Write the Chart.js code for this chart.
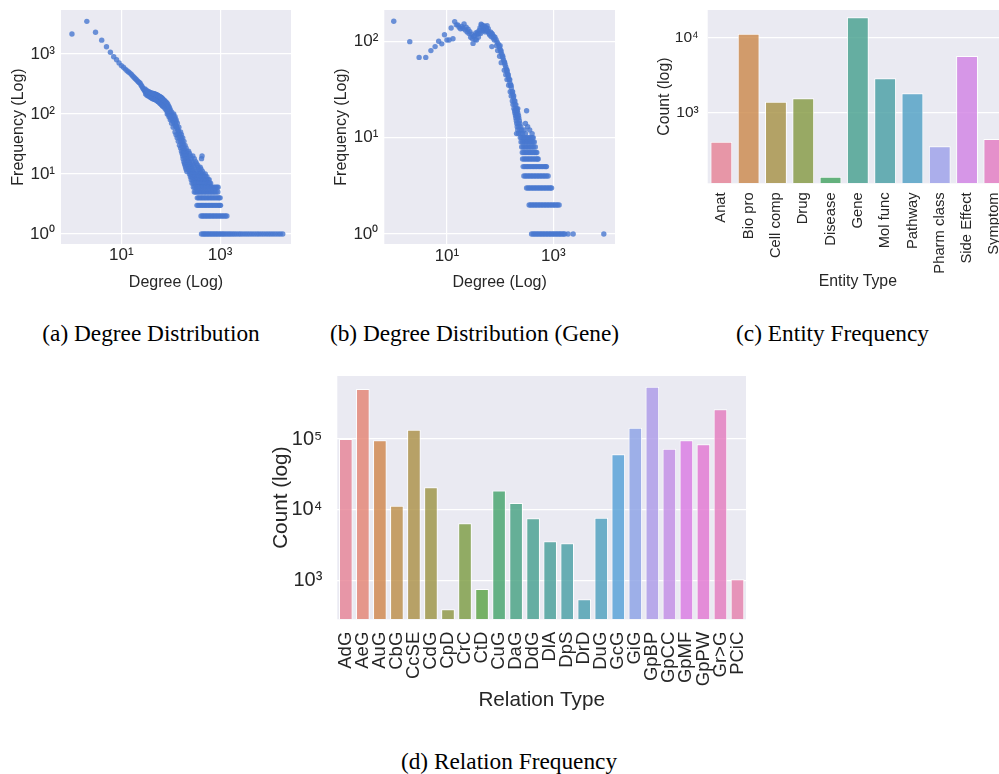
<!DOCTYPE html>
<html>
<head>
<meta charset="utf-8">
<title>Degree and frequency distributions</title>
<script src="https://cdn.jsdelivr.net/npm/chart.js@4.4.1/dist/chart.umd.min.js"></script>
<style>
  html, body { margin:0; padding:0; background:#ffffff; }
  #wrap { position:relative; width:999px; height:774px; overflow:hidden; background:#ffffff; }
  canvas { position:absolute; }
  .cap { position:absolute; width:400px; text-align:center; font-family:'Liberation Serif','Times New Roman',serif; font-size:23.3px; line-height:26px; color:#000; white-space:nowrap; }
</style>
</head>
<body>
<div id="wrap">
  <canvas id="chartA" width="300" height="300" style="left:0px;top:0px"></canvas>
  <canvas id="chartB" width="300" height="300" style="left:330px;top:0px"></canvas>
  <canvas id="chartC" width="380" height="300" style="left:640px;top:0px"></canvas>
  <canvas id="chartD" width="501" height="350" style="left:255px;top:366px"></canvas>
  <div class="cap" style="left:-49px;top:320px">(a) Degree Distribution</div>
  <div class="cap" style="left:274.5px;top:320px">(b) Degree Distribution (Gene)</div>
  <div class="cap" style="left:632.5px;top:320px">(c) Entity Frequency</div>
  <div class="cap" style="left:309px;top:748px">(d) Relation Frequency</div>
</div>
<script>
// ---------------- DATA ----------------
// (a) Degree distribution, all nodes: [degree, frequency] along the main curve
const ridgeA = [[1,2150],[2,3500],[3,2300],[4,1700],[5,1320],[6,1070],[7,900],[8,800],[9,710],[10,640],
 [11,600],[12,560],[13,525],[14,500],[15,480],[16,455],[17,430],[18,410],[19,390],[20,375],[21,360],[22,345],
 [23,335],[24,325],[25,305],[26,290],[27,275],[28,260],[29,250],[30,240],[31,235],[32,228],[33,222],[34,215],
 [35,225],[36,210],[37,218],[38,205],[39,212],[40,200],[41,208],[42,203],[43,198],[44,210],[45,196],[46,202],
 [47,193],[48,200],[49,190],[50,197],[51,188],[52,194],[54,185],[56,190],[58,178],[60,182],[62,172],[64,176],
 [66,166],[68,170],[70,160],[72,163],[74,152],[76,156],[78,145],[80,148],[82,138],[84,140],[86,130],[88,126],
 [90,120],[92,116],[94,112],[96,108],[98,103],[100,100],[103,95],[106,90],[109,86],[112,82],[115,78],[118,74],
 [121,71],[124,68],[127,65],[130,62],[133,60],[137,56],[141,53],[145,50],[149,47],[153,44],[157,42],[161,40],
 [165,38],[170,35],[175,32],[180,30],[185,27],[190,25],[195,23],[200,21],[210,19],[220,17],[230,15],[240,14],
 [250,13],[265,12],[280,11]];
// (a) further points that widen the curve between degree 30 and 130
const spreadA = [[30,262],[31,215],[32,250],[33,205],[34,240],[35,200],[36,235],[37,195],[38,228],[39,188],
 [40,225],[41,185],[42,222],[43,180],[44,220],[45,178],[46,218],[47,175],[48,215],[49,172],[50,212],[51,170],
 [52,210],[53,166],[54,205],[55,162],[56,202],[57,158],[58,198],[59,155],[60,195],[61,150],[62,192],[63,148],
 [64,188],[65,142],[66,185],[67,140],[68,180],[69,135],[70,175],[72,132],[74,170],[76,125],[78,162],[80,118],
 [82,155],[84,112],[86,148],[88,105],[90,138],[92,98],[94,128],[96,92],[98,118],[100,86],[104,108],[108,78],
 [112,96],[116,70],[120,86],[124,62],[128,76]];
// (a) scattered points around the curve: [frequency, [degrees]]
const cloudA = [[100,[85,115]],[90,[92,122]],[80,[98,128]],[70,[104,136]],[60,[112,146]],[50,[122,158]],
 [45,[128,140,165]],[40,[135,148,175]],[35,[142,158,185]],[30,[150,166,195]],[27,[158,172,205]],
 [24,[165,180,212,230]],[22,[170,185,210,240]],[20,[175,190,215,250,280,430]],[18,[178,198,225,260,300,420]],
 [16,[185,205,235,270,320]],[15,[190,212,240,280,330]],[14,[195,218,250,290,350]],[13,[200,225,260,300,360,395]],
 [12,[205,232,270,310,370,410]],[11,[212,240,280,330,390,440]]];
// (a) low-frequency bands: [frequency, [degrees]]
const bandsA = [
 [10,[240,256,274,293,314,337,362,390,420,455,500]],
 [9,[250,267,285,305,327,351,377,405,436,470,505,540]],
 [8,[260,280,299,320,343,368,395,424,456,491,530,570,600]],
 [7,[270,290,310,331,354,379,406,435,466,500,537,577,610,640]],
 [6,[288,307,328,350,374,400,428,458,490,525,562,602,645,692,742,800,860,910]],
 [5,[300,320,342,365,390,417,446,477,510,546,585,627,672,720,772,828,900]],
 [4,[345,368,393,420,449,480,513,549,587,628,672,720,772,828,888,950,1000]],
 [3,[340,362,386,412,440,470,502,536,573,612,655,700,750,805,862,925,990,1020]],
 [2,[410,438,466,497,530,566,604,645,690,738,790,845,905,970,1040,1115,1195,1280,1370]],
 [1,[420,452,480,515,548,590,628,676,720,775,830,890,960,1030,1110,1190,1290,1400,1520,1650,1800,1960,
     2150,2380,2600,2880,3200,3550,3950,4400,4900,5500,6100,6800,7600,8500,9500,10600,11800,13200,14800,16500,18500]]];

// (b) Degree distribution, gene nodes
const ridgeB = [[1,161],[2,99],[3,68],[4,68],[5,80],[6,88],[7,100],[8,94],[9,117],[10,103],[11,103],[12,137],
 [13,106],[14,160],[15,148],[16,148],[17,140],[18,135],[19,142],[20,136],[21,151],[22,131],[23,140],[24,125],
 [25,133],[26,120],[27,126],[28,110],[29,118],[30,107],[31,95],[32,112],[33,115],[34,104],[35,122],[36,103],
 [37,118],[38,125],[39,110],[40,121],[41,130],[42,138],[43,120],[44,150],[45,148],[46,140],[47,128],[48,136],
 [49,145],[50,132],[51,131],[52,142],[53,125],[54,138],[55,136],[56,130],[57,145],[58,128],[59,126],[60,135],
 [62,120],[64,116],[66,125],[68,112],[69,121],[70,88],[72,118],[74,108],[76,112],[78,103],[80,110],[84,104],
 [88,98],[92,94],[96,88],[100,82],[104,77],[108,73],[112,68],[116,64],[120,61],[124,57],[128,54],[132,51],
 [136,48],[140,45],[144,42],[148,40],[153,37],[158,35],[163,33],[168,30],[173,28],[178,26],[184,24],[190,22],
 [196,20],[202,18],[208,17],[214,16],[220,14],[227,13],[235,12],[243,11]];
const cloudB = [[90,[86,100]],[80,[90,104]],[70,[98,112]],[60,[105,122]],[50,[120,135]],[45,[128,142]],
 [40,[135,152]],[35,[145,160]],[30,[155,172]],[27,[162,180]],[24,[170,190]],[22,[175,198]],[20,[182,205,215]],
 [19,[188,210,315]],[18,[190,215]],[17,[195,222]],[16,[198,225]],[15,[202,230]],[14,[206,236,300]],
 [13,[210,245,330]],[12,[215,255,285,360]],[11,[204,222,265,300,400]]];
const bandsB = [
 [10,[240,256,273,292,311,332,355,380,405,420]],
 [9,[248,265,283,302,322,344,367,392,418,440]],
 [8,[255,272,290,310,330,352,376,401,428,460]],
 [7,[262,280,298,318,340,362,386,412,440,470,490]],
 [6,[265,283,302,322,343,366,390,416,444,474,505,520]],
 [5,[272,290,310,330,352,376,401,428,456,487,520,555,592,632,676,720,745]],
 [4,[280,299,319,340,363,387,413,440,470,501,535,570,608,650,695,745,800]],
 [3,[315,336,358,382,408,435,464,495,528,563,600,640,683,728,777,830,885,929]],
 [2,[352,376,400,428,456,487,520,555,592,632,675,720,768,820,875,935,1000,1065,1135,1210,1290]],
 [1,[391,418,445,475,505,540,575,612,650,695,740,790,840,895,955,1015,1080,1150,1225,1300,1380,1470,1560,1650,1900,2370,8930]]];

// (c) Entity frequency
const entityTypes = ['Anat','Bio pro','Cell comp','Drug','Disease','Gene','Mol func','Pathway','Pharm class','Side Effect','Symptom'];
const entityCounts = [410,11300,1400,1556,140,18800,2880,1820,356,5700,446];

// (d) Relation frequency
const relationTypes = ['AdG','AeG','AuG','CbG','CcSE','CdG','CpD','CrC','CtD','CuG','DaG','DdG','DlA','DpS','DrD','DuG','GcG','GiG','GpBP','GpCC','GpMF','GpPW','Gr>G','PCiC'];
const relationCounts = [100000,509000,96000,11400,135000,20700,390,6430,755,18600,12400,7550,3570,3350,541,7700,60800,144000,549000,73000,96000,84000,263000,1038];

// tick values (powers of ten shown on each axis)
const ticksAx = [10,1000], ticksAy = [1,10,100,1000];
const ticksBx = [10,1000], ticksBy = [1,10,100];
const ticksCy = [1000,10000];
const ticksDy = [1000,10000,100000];

// ---------------- HELPERS ----------------
Chart.defaults.font.family = "'Liberation Sans', Arial, Helvetica, sans-serif";
Chart.defaults.color = '#262626';
const TXT = '#262626';
const SUP = {'0':'\u2070','1':'\u00B9','2':'\u00B2','3':'\u00B3','4':'\u2074','5':'\u2075','6':'\u2076'};
const powLabel = v => '10' + String(Math.round(Math.log10(v))).split('').map(c => SUP[c]).join('');

function buildPoints(pairs, levelLists){
  const pts = pairs.map(([x,y]) => ({x, y}));
  levelLists.forEach(([f, degs]) => degs.forEach(d => pts.push({x:d, y:f})));
  return pts;
}

// seaborn-style husl palette, desaturated like barplot
const HM = [[3.2406,-1.5372,-0.4986],[-0.9689,1.8758,0.0415],[0.0557,-0.2040,1.0570]];
function maxChroma(L,H){
  const hr = H/360*2*Math.PI, sinH = Math.sin(hr), cosH = Math.cos(hr);
  const sub1 = Math.pow(L+16,3)/1560896, sub2 = sub1 > 0.008856 ? sub1 : L/903.3;
  let res = Infinity;
  for (const [m1,m2,m3] of HM){
    const top = (0.99915*m1 + 1.05122*m2 + 1.14460*m3)*sub2;
    const rb = 0.86330*m3 - 0.17266*m2, lb = 0.12949*m3 - 0.38848*m1;
    const bottom = (rb*sinH + lb*cosH)*sub2;
    for (const t of [0,1]){
      const C = L*(top - 1.05122*t)/(bottom + 0.17266*sinH*t);
      if (C > 0 && C < res) res = C;
    }
  }
  return res;
}
function huslToRgb(H,S,L){
  const C = maxChroma(L,H)/100*S, hr = H/360*2*Math.PI;
  const U = Math.cos(hr)*C, V = Math.sin(hr)*C;
  const t = (L+16)/116, Y = t*t*t > 0.008856 ? t*t*t : (116*t-16)/903.3;
  const vu = U/(13*L) + 0.19784, vv = V/(13*L) + 0.46834;
  const X = -(9*Y*vu)/((vu-4)*vv - vu*vv);
  const Z = (9*Y - 15*vv*Y - vv*X)/(3*vv);
  return HM.map(r => { const c = r[0]*X + r[1]*Y + r[2]*Z; const v = c <= 0.0031308 ? 12.92*c : 1.055*Math.pow(c,1/2.4) - 0.055; return Math.min(1, Math.max(0, v)); });
}
function desaturate([r,g,b], p){
  const mx = Math.max(r,g,b), mn = Math.min(r,g,b), l = (mx+mn)/2;
  if (mx === mn) return [r,g,b];
  const d = mx - mn; let s = l <= 0.5 ? d/(mx+mn) : d/(2-mx-mn);
  const rc = (mx-r)/d, gc = (mx-g)/d, bc = (mx-b)/d;
  let h = r === mx ? bc-gc : (g === mx ? 2+rc-bc : 4+gc-rc);
  h = ((h/6)%1 + 1)%1; s *= p;
  const m2 = l <= 0.5 ? l*(1+s) : l+s-l*s, m1 = 2*l - m2;
  const v = hh => { hh = ((hh%1)+1)%1; if (hh < 1/6) return m1+(m2-m1)*hh*6; if (hh < 0.5) return m2; if (hh < 2/3) return m1+(m2-m1)*(2/3-hh)*6; return m1; };
  return [v(h+1/3), v(h), v(h-1/3)];
}
function huslPalette(n, alpha){
  const out = [];
  for (let i = 0; i < n; i++){
    const h = ((i/n + 0.01) % 1) * 359;
    const c = desaturate(huslToRgb(h, 0.9*99, 0.65*99), 0.75);
    out.push('rgba(' + c.map(x => Math.round(x*255)).join(',') + ',' + alpha + ')');
  }
  return out;
}

const bgPlugin = {id:'panelBg', beforeDraw(chart){
  const {ctx, chartArea:a} = chart; ctx.save(); ctx.fillStyle = '#EAEAF2';
  ctx.fillRect(a.left, a.top, a.right-a.left, a.bottom-a.top); ctx.restore(); }};

function logAxis(o){
  return {
    type:'logarithmic', position:o.position, min:o.min, max:o.max,
    afterBuildTicks: s => { s.ticks = o.ticks.map(v => ({value:v})); },
    afterFit: s => {
      if (o.position === 'left'){ s.width = o.size; s.paddingTop = 0; s.paddingBottom = 0; }
      else { s.height = o.size; s.paddingLeft = 0; s.paddingRight = 0; }
    },
    grid:{color:'#ffffff', lineWidth:1.2, drawTicks:false},
    border:{display:false},
    ticks:{autoSkip:false, maxRotation:0, minRotation:0, padding:o.pad, color:TXT, font:{size:o.tickSize}, callback: v => powLabel(v)},
    title:{display:true, text:o.title, color:TXT, font:{size:o.titleSize},
           padding: o.position === 'left' ? {top:o.titlePad, bottom:0} : {top:0, bottom:o.titlePad}}
  };
}
const baseOpts = {responsive:false, animation:false, devicePixelRatio:1, events:[],
  plugins:{legend:{display:false}, tooltip:{enabled:false}}};

function scatterChart(id, pts, pad, xo, yo){
  return new Chart(document.getElementById(id), {
    type:'scatter',
    data:{datasets:[{data:pts, backgroundColor:'rgba(72,120,208,0.8)', borderWidth:0, pointRadius:2.7, pointHoverRadius:2.7}]},
    options:Object.assign({}, baseOpts, {layout:{padding:pad}, scales:{x:logAxis(xo), y:logAxis(yo)}}),
    plugins:[bgPlugin]
  });
}
function barChart(id, labels, values, colors, pad, xo, yo){
  return new Chart(document.getElementById(id), {
    type:'bar',
    data:{labels, datasets:[{data:values, backgroundColor:colors, borderColor:'rgba(255,255,255,0.9)', borderWidth:1,
      barPercentage:0.8, categoryPercentage:1}]},
    options:Object.assign({}, baseOpts, {layout:{padding:pad}, scales:{
      x:{type:'category', position:'bottom', offset:true, grid:{display:false, drawTicks:false}, border:{display:false},
         afterFit: s => { s.height = xo.size; s.paddingLeft = 0; s.paddingRight = 0; },
         ticks:{autoSkip:false, minRotation:90, maxRotation:90, padding:xo.pad, color:TXT, font:{size:xo.tickSize}},
         title:{display:true, text:xo.title, color:TXT, font:{size:xo.titleSize}, padding:{top:0, bottom:xo.titlePad}}},
      y:logAxis(yo)}}),
    plugins:[bgPlugin]
  });
}

// ---------------- CHARTS ----------------
scatterChart('chartA', buildPoints(ridgeA.concat(spreadA), cloudA.concat(bandsA)), {left:0, top:10, right:9, bottom:0},
  {position:'bottom', min:0.614, max:27200, ticks:ticksAx, size:56, pad:1, tickSize:17, title:'Degree (Log)', titleSize:16, titlePad:7.4},
  {position:'left', min:0.681, max:5410, ticks:ticksAy, size:61, pad:6, tickSize:17, title:'Frequency (Log)', titleSize:16, titlePad:8.9});

scatterChart('chartB', buildPoints(ridgeB, cloudB.concat(bandsB)), {left:0, top:10, right:15, bottom:0},
  {position:'bottom', min:0.664, max:14500, ticks:ticksBx, size:56, pad:2.5, tickSize:17, title:'Degree (Log)', titleSize:16, titlePad:7.7},
  {position:'left', min:0.787, max:211, ticks:ticksBy, size:54.3, pad:6, tickSize:17, title:'Frequency (Log)', titleSize:16, titlePad:2.1});

barChart('chartC', entityTypes, entityCounts, huslPalette(entityTypes.length, 0.8), {left:0, top:10, right:12, bottom:0},
  {size:116.7, pad:9, tickSize:14.8, title:'Entity Type', titleSize:15.8, titlePad:8.8},
  {position:'left', min:114.6, max:23400, ticks:ticksCy, size:67.7, pad:9, tickSize:15.5, title:'Count (log)', titleSize:15.8, titlePad:15.5});

barChart('chartD', relationTypes, relationCounts, huslPalette(relationTypes.length, 0.8), {left:0, top:10, right:10, bottom:0},
  {size:96.7, pad:12.4, tickSize:18.5, title:'Relation Type', titleSize:20.7, titlePad:3.6},
  {position:'left', min:280.6, max:779000, ticks:ticksDy, size:82.3, pad:15, tickSize:20, title:'Count (log)', titleSize:20.7, titlePad:13.8});
</script>
</body>
</html>
